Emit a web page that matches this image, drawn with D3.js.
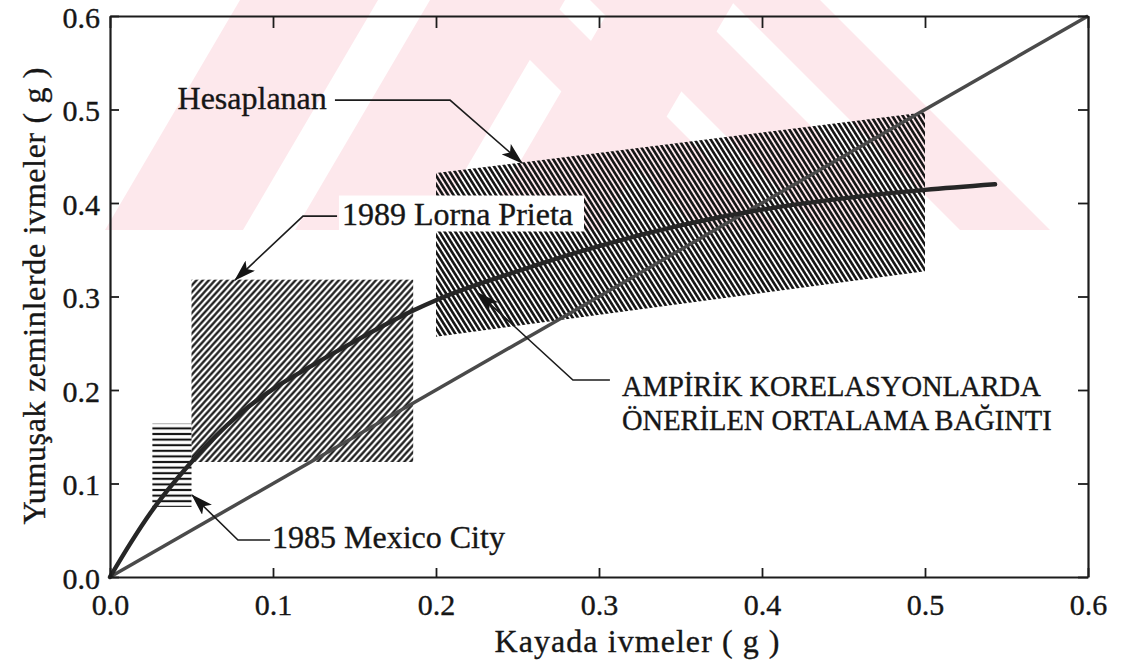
<!DOCTYPE html>
<html><head><meta charset="utf-8">
<script src="https://cdn.jsdelivr.net/npm/d3@7"></script>
<style>
html,body{margin:0;padding:0;background:#fff;}
svg{display:block;}
text{font-family:"Liberation Serif","Times New Roman",serif;fill:#161616;stroke:#161616;stroke-width:0.35px;}
</style></head><body>
<svg id="chart" width="1129" height="663"></svg>
<script>
// ---------------- data ----------------
const xTickValues = [0, 0.1, 0.2, 0.3, 0.4, 0.5, 0.6];
const yTickValues = [0, 0.1, 0.2, 0.3, 0.4, 0.5, 0.6];
const tickLabels  = ["0.0", "0.1", "0.2", "0.3", "0.4", "0.5", "0.6"];
const xTitle = "Kayada ivmeler ( g )";
const yTitle = "Yumuşak zeminlerde ivmeler ( g )";

// 1:1 line
const equalLineX = [0, 0.6];
const equalLineY = [0, 0.6];

const avgCurveX = [0, 0.0125, 0.025, 0.035, 0.05, 0.065, 0.08, 0.1, 0.117, 0.15, 0.186, 0.2, 0.25, 0.3, 0.35, 0.4, 0.45, 0.5, 0.543];
const avgCurveY = [0, 0.036, 0.069, 0.092, 0.123, 0.151, 0.175, 0.201, 0.219, 0.252, 0.285, 0.296, 0.327, 0.354, 0.376, 0.393, 0.405, 0.414, 0.42];

// observed / computed ranges
const mexicoX = [0.026, 0.05];
const mexicoY = [0.075, 0.164];
const lornaX  = [0.05, 0.186];
const lornaY  = [0.123, 0.318];
const hesapX     = [0.2, 0.5];
const hesapLowY  = [0.257, 0.327];
const hesapHighY = [0.432, 0.497];

// annotation labels
const annLabels = ["Hesaplanan", "1989 Lorna Prieta", "1985 Mexico City", "AMPİRİK KORELASYONLARDA", "ÖNERİLEN ORTALAMA BAĞINTI"];

// ---------------- layout ----------------
const svg = d3.select("#chart");
const x = d3.scaleLinear().domain([0, 0.6]).range([110, 1088]);
const y = d3.scaleLinear().domain([0, 0.6]).range([577, 16]);

const defs = svg.append("defs");

// faint background watermark (decoration of the scanned page)
defs.append("clipPath").attr("id", "wmClip").append("rect")
  .attr("x", 0).attr("y", 0).attr("width", 1075).attr("height", 230);
const wm = svg.append("g").attr("clip-path", "url(#wmClip)").attr("fill", "#fde8ec");
function band(xb0, xb1, xt0, xt1) {
  return `M${xb0},230L${xb1},230L${xt1},0L${xt0},0Z`;
}
[
  band(105, 243, 240, 378),
  band(295, 430, 430, 565),
  band(480, 600, 615, 735),
  band(700, 780, 470, 550),
  band(820, 915, 590, 685),
  band(960, 1050, 730, 820)
].forEach(d => wm.append("path").attr("d", d));

// hatch patterns
function hatch(id, angle, spacing, width) {
  const p = defs.append("pattern").attr("id", id)
    .attr("patternUnits", "userSpaceOnUse")
    .attr("width", spacing).attr("height", spacing)
    .attr("patternTransform", `rotate(${angle})`);
  p.append("line")
    .attr("x1", spacing / 2).attr("x2", spacing / 2)
    .attr("y1", -1).attr("y2", spacing + 1)
    .attr("stroke", "#111").attr("stroke-width", width);
}
hatch("hLorna", 42, 4.6, 2.2);
hatch("hHesap", -32, 4.5, 2.6);
hatch("hMex", 90, 5.6, 2.1);

// arrow marker
defs.append("marker").attr("id", "arrow")
  .attr("viewBox", "0 0 22 14").attr("refX", 21).attr("refY", 7)
  .attr("markerWidth", 22).attr("markerHeight", 14)
  .attr("markerUnits", "userSpaceOnUse").attr("orient", "auto")
  .append("path").attr("d", "M0,0L22,7L0,14L5,7Z").attr("fill", "#151515");

// ---------------- regions ----------------
const regions = svg.append("g");
regions.append("rect")
  .attr("x", x(mexicoX[0])).attr("y", y(mexicoY[1]))
  .attr("width", x(mexicoX[1]) - x(mexicoX[0]))
  .attr("height", y(mexicoY[0]) - y(mexicoY[1]))
  .attr("fill", "url(#hMex)");
regions.append("rect")
  .attr("x", x(lornaX[0])).attr("y", y(lornaY[1]))
  .attr("width", x(lornaX[1]) - x(lornaX[0]))
  .attr("height", y(lornaY[0]) - y(lornaY[1]))
  .attr("fill", "url(#hLorna)");
const hesapPoly = [
  [hesapX[0], hesapLowY[0]], [hesapX[1], hesapLowY[1]],
  [hesapX[1], hesapHighY[1]], [hesapX[0], hesapHighY[0]]
];
regions.append("path")
  .attr("d", "M" + hesapPoly.map(p => [x(p[0]), y(p[1])].join(",")).join("L") + "Z")
  .attr("fill", "url(#hHesap)");

// ---------------- lines ----------------
svg.append("path")
  .datum(equalLineX.map((v, i) => [v, equalLineY[i]]))
  .attr("d", d3.line().x(d => x(d[0])).y(d => y(d[1])))
  .attr("fill", "none").attr("stroke", "#4a4a4a").attr("stroke-width", 3.5);
svg.append("path")
  .datum(avgCurveX.map((v, i) => [v, avgCurveY[i]]))
  .attr("d", d3.line().x(d => x(d[0])).y(d => y(d[1])).curve(d3.curveMonotoneX))
  .attr("fill", "none").attr("stroke", "#262626").attr("stroke-width", 4.4)
  .attr("stroke-linecap", "round");

// ---------------- axes ----------------
const axStyle = g => {
  g.selectAll("path.domain").attr("stroke", "#1c1c1c").attr("stroke-width", 2.2);
  g.selectAll(".tick line").attr("stroke", "#1c1c1c").attr("stroke-width", 1.8);
  g.selectAll(".tick text").attr("font-size", 30);
};
svg.append("g").attr("transform", `translate(0,${y(0)})`)
  .call(d3.axisBottom(x).tickValues(xTickValues).tickFormat(d => tickLabels[xTickValues.indexOf(d)])
    .tickSizeInner(-9).tickSizeOuter(0).tickPadding(17))
  .call(axStyle);
svg.append("g").attr("transform", `translate(${x(0)},0)`)
  .call(d3.axisLeft(y).tickValues(yTickValues).tickFormat(d => tickLabels[yTickValues.indexOf(d)])
    .tickSizeInner(-9).tickSizeOuter(0).tickPadding(10))
  .call(axStyle)
  .call(g => g.selectAll(".tick text").attr("dy", "0.37em"));
svg.append("g").attr("transform", `translate(0,${y(0.6)})`)
  .call(d3.axisTop(x).tickValues(xTickValues).tickFormat("").tickSizeInner(-12).tickSizeOuter(0))
  .call(axStyle);
svg.append("g").attr("transform", `translate(${x(0.6)},0)`)
  .call(d3.axisRight(y).tickValues(yTickValues).tickFormat("").tickSizeInner(-10).tickSizeOuter(0))
  .call(axStyle);

// axis titles
svg.append("text").attr("x", 637).attr("y", 652)
  .attr("text-anchor", "middle").attr("font-size", 32)
  .attr("textLength", 285).attr("lengthAdjust", "spacing")
  .text(xTitle);
svg.append("text").attr("transform", "translate(45,296) rotate(-90)")
  .attr("text-anchor", "middle").attr("font-size", 32)
  .attr("textLength", 457).attr("lengthAdjust", "spacing")
  .text(yTitle);

// ---------------- annotations ----------------
const annotations = [
  { lines: [annLabels[0]], tx: 0.133, ty: [0.501], anchor: "end", size: 32, box: false,
    leader: [[0.138, 0.510], [0.2086, 0.510], [0.2528, 0.4428]] },
  { lines: [annLabels[1]], tx: 0.1423, ty: [0.377], anchor: "start", size: 32, box: true,
    leader: [[0.1393, 0.386], [0.1184, 0.386], [0.0767, 0.3176]] },
  { lines: [annLabels[2]], tx: 0.0994, ty: [0.0305], anchor: "start", size: 32, box: false,
    leader: [[0.0982, 0.0396], [0.0785, 0.0396], [0.0503, 0.0877]] },
  { lines: [annLabels[3], annLabels[4]], tx: 0.3141, ty: [0.1941, 0.1567], anchor: "start", size: 28.5, box: false,
    leader: [[0.3067, 0.2107], [0.2840, 0.2107], [0.2258, 0.3037]] }
];
const ann = svg.append("g");
annotations.forEach(a => {
  const g = ann.append("g");
  const boxLayer = g.append("g");
  a.lines.forEach((t, i) => {
    g.append("text").attr("x", x(a.tx)).attr("y", y(a.ty[i]))
      .attr("text-anchor", a.anchor).attr("font-size", a.size).text(t);
  });
  if (a.box) {
    const bb = g.node().getBBox();
    boxLayer.append("rect").attr("x", bb.x - 3).attr("y", bb.y)
      .attr("width", bb.width + 14).attr("height", bb.height).attr("fill", "#fff");
  }
  ann.append("path")
    .attr("d", d3.line().x(d => x(d[0])).y(d => y(d[1]))(a.leader))
    .attr("fill", "none").attr("stroke", "#1c1c1c").attr("stroke-width", 1.6)
    .attr("marker-end", "url(#arrow)");
});
</script>
</body></html>
